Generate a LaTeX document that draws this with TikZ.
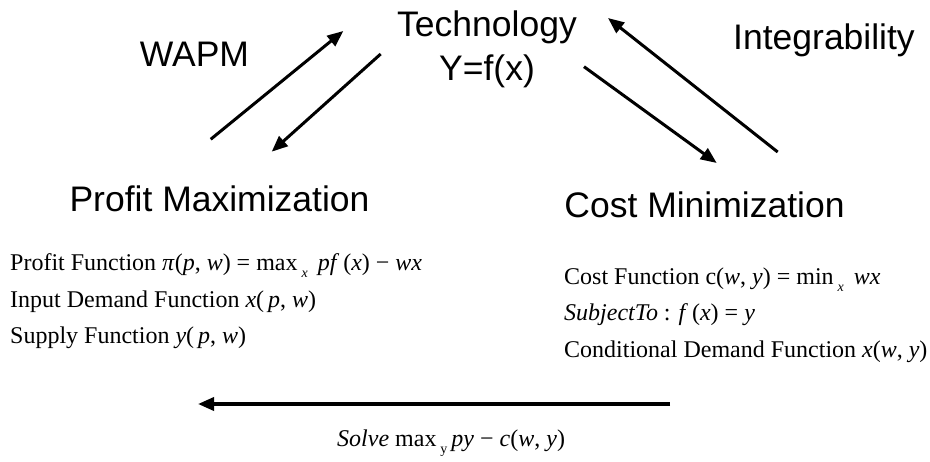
\documentclass[tikz,border=0pt]{standalone}
\usepackage{fontspec}
\setmainfont{Liberation Serif}
\newfontfamily\hdfont{Liberation Sans}
\usetikzlibrary{arrows.meta}
\tikzset{
  head/.style={inner sep=0pt, font=\hdfont\fontsize{35.5}{44}\selectfont},
  formula/.style={inner sep=0pt, anchor=base west, font=\fontsize{24}{28}\selectfont},
  link/.style={line width=3pt, -{Triangle[length=16pt,width=13pt]}},
}
\newcommand{\mi}[1]{\textit{#1}}
\newcommand{\lowsub}[1]{\raisebox{-0.28em}{\fontsize{14}{16}\selectfont #1}}
\begin{document}
\begin{tikzpicture}[x=1pt,y=-1pt]
\useasboundingbox (0,0) rectangle (930,462);
% headings
\node[head, align=center] (tech) at (487,49.6) {Technology\\Y=f(x)};
\node[head, anchor=base] (wapm) at (194.5,67) {WAPM};
\node[head, anchor=base] (integ) at (824,50) {Integrability};
\node[head, anchor=base] (profit) at (219.5,211.7) {Profit Maximization};
\node[head, anchor=base] (cost) at (704.5,218) {Cost Minimization};
% profit formulas
\node[formula] (pf1) at (10,271) {Profit Function \mi{π}(\mi{p}, \mi{w}) = max\,\lowsub{\mi{x}}\, \mi{pf}\,(\mi{x}) − \mi{wx}};
\node[formula] (pf2) at (10,307.5) {Input Demand Function \mi{x}(\,\mi{p}, \mi{w})};
\node[formula] (pf3) at (10,344) {Supply Function \mi{y}(\,\mi{p}, \mi{w})};
% cost formulas
\node[formula] (cf1) at (564,285) {Cost Function c(\mi{w}, \mi{y}) = min\,\lowsub{\mi{x}}\, \mi{wx}};
\node[formula] (cf2) at (564,321) {\mi{SubjectTo} : \mi{f}\,(\mi{x}) = \mi{y}};
\node[formula] (cf3) at (564,357.5) {Conditional Demand Function \mi{x}(\mi{w}, \mi{y})};
% solve
\node[formula] (solve) at (337,447) {\mi{Solve} max\,\lowsub{y}\,\mi{py} − \mi{c}(\mi{w}, \mi{y})};
% arrow ends
\coordinate (a1s) at (210.7,139.3); \coordinate (a1e) at (343.3,31);
\coordinate (a2s) at (380.7,54);    \coordinate (a2e) at (271.7,151.7);
\coordinate (a3s) at (584,66.7);    \coordinate (a3e) at (716.7,163);
\coordinate (a4s) at (777.7,152);   \coordinate (a4e) at (608,18);
\coordinate (a5s) at (670,404);     \coordinate (a5e) at (198,404);
\draw[link] (a1s) -- (a1e);
\draw[link] (a2s) -- (a2e);
\draw[link] (a3s) -- (a3e);
\draw[link] (a4s) -- (a4e);
\draw[link, line width=3.5pt] (a5s) -- (a5e);
\end{tikzpicture}
\end{document}
